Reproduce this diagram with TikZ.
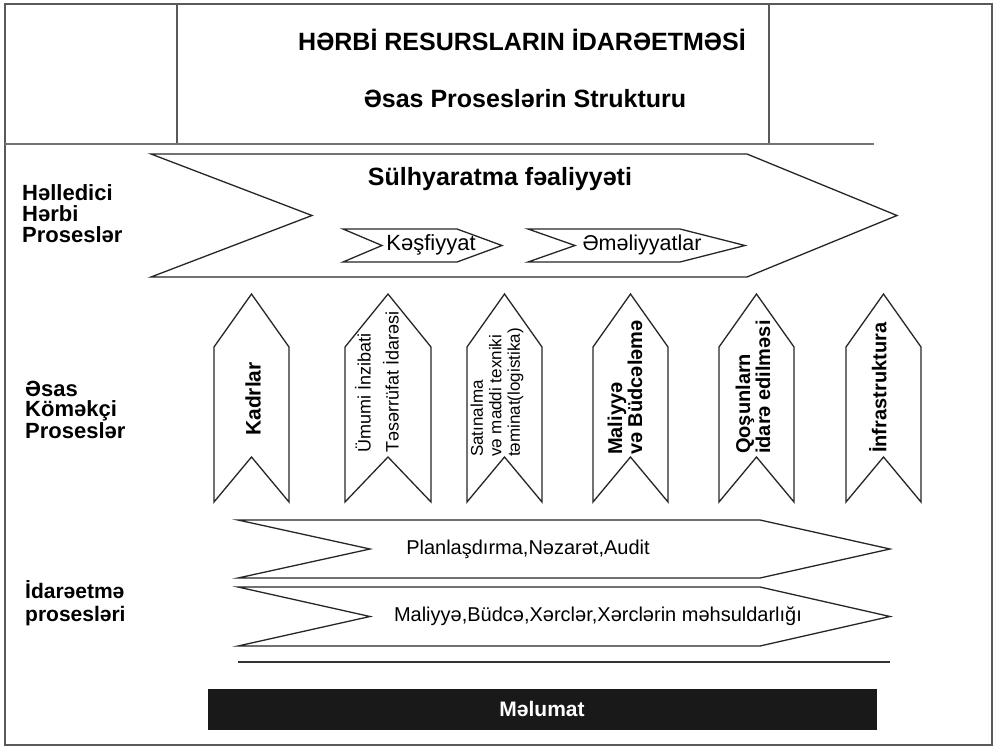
\documentclass[tikz,border=0pt]{standalone}
\usepackage{fontspec}
\setmainfont{Liberation Sans}
\usetikzlibrary{positioning}
\tikzset{
  chev/.style={draw=black!85, line width=1.3pt, fill=white, line join=miter},
  frameln/.style={draw=black!65, line width=2pt},
  ttl/.style={font=\bfseries\fontsize{25}{30}\selectfont, inner sep=0pt},
  sidelbl/.style={font=\bfseries\fontsize{22}{21}\selectfont, align=left, anchor=west, inner sep=0pt},
  chevtxt/.style={font=\fontsize{20}{24}\selectfont, inner sep=0pt},
  vtxt/.style={rotate=90, anchor=west, align=left, inner sep=0pt},
  vbold/.style={vtxt, font=\bfseries\fontsize{20}{20}\selectfont},
  databar/.style={draw=black!90, fill=black!90, text=white, minimum width=668pt,
                  minimum height=40pt, font=\bfseries\fontsize{21}{24}\selectfont},
}
% horizontal chevron: left x, notch x, body end x, tip x, top y, bottom y
\newcommand{\hchev}[6]{%
  \draw[chev] (#1,#5) -- (#3,#5) -- (#4,{(#5+#6)/2}) -- (#3,#6) -- (#1,#6)
    -- (#2,{(#5+#6)/2}) -- cycle;
}
% vertical chevron pointing up: left x, right x
\newcommand{\vchev}[2]{%
  \draw[chev] (#1,347) -- ({(#1+#2)/2},294) -- (#2,347) -- (#2,502)
    -- ({(#1+#2)/2},457) -- (#1,502) -- cycle;
}
\begin{document}
\begin{tikzpicture}[x=1pt, y=-1pt]
    \useasboundingbox (0,0) rectangle (994,747);
    % frame and header
    \draw[frameln] (5,4) rectangle (992,745);
    \draw[frameln] (177,4) -- (177,144);
    \draw[frameln] (769,4) -- (769,144);
    \draw[frameln, draw=black!55, line width=2.5pt] (5,144) -- (874,144);
    \node[ttl] (titlea) at (522,40) {HƏRBİ RESURSLARIN İDARƏETMƏSİ};
    \node[ttl] (titleb) at (525,99) {Əsas Proseslərin Strukturu};

    % decisive processes
    \node[sidelbl] (lblhell) at (22,214) {Həlledici\\Hərbi\\Proseslər};
    \hchev{151}{312}{747}{897}{154}{277}
    \node[ttl] (sulh) at (500,179) {Sülhyaratma fəaliyyəti};
    \hchev{343}{382}{457}{502}{229}{262}
    \node[chevtxt, font=\fontsize{22}{24}\selectfont] (kesf) at (431,245) {Kəşfiyyat};
    \hchev{528}{575}{680}{745}{229}{262}
    \node[chevtxt, font=\fontsize{21.5}{24}\selectfont] (emel) at (642,245) {Əməliyyatlar};

    % supporting processes
    \node[sidelbl, font=\bfseries\fontsize{22}{20}\selectfont] (lblkom) at (25,410) {Əsas\\Köməkçi\\Proseslər};
    \vchev{214}{289}
    \vchev{345}{431}
    \vchev{467}{542}
    \vchev{593}{668}
    \vchev{719}{794}
    \vchev{846}{921}
    \node[vbold, anchor=center, font=\bfseries\fontsize{21}{21}\selectfont] (kadr) at (253,399) {Kadrlar};
    \node[vtxt, font=\fontsize{18}{28}\selectfont] (umumi) at (377,453) {Ümumi İnzibati\\Təsərrüfat İdarəsi};
    \node[vtxt, font=\fontsize{17}{18.5}\selectfont] (satin) at (497,457) {Satınalma\\və maddi texniki\\təminat(logistika)};
    \node[vbold] (maliy) at (625,455) {Maliyyə\\və Büdcələmə};
    \node[vbold] (qosun) at (753,454) {Qoşunlarn\\idarə edilməsi};
    \node[vbold] (infra) at (878,453) {İnfrastruktura};

    % management processes
    \node[sidelbl, font=\bfseries\fontsize{21}{23}\selectfont] (lblidr) at (25,603) {İdarəetmə\\prosesləri};
    \hchev{238}{370}{760}{890}{520}{578}
    \node[chevtxt] (plan) at (528,549) {Planlaşdırma,Nəzarət,Audit};
    \hchev{238}{370}{760}{890}{587}{646}
    \node[chevtxt] (xerc) at (598,616) {Maliyyə,Büdcə,Xərclər,Xərclərin məhsuldarlığı};
    \draw[draw=black!80, line width=1.3pt] (238,662) -- (890,662);

    % information bar
    \node[databar] (melumat) at (542,709) {Məlumat};
\end{tikzpicture}
\end{document}
